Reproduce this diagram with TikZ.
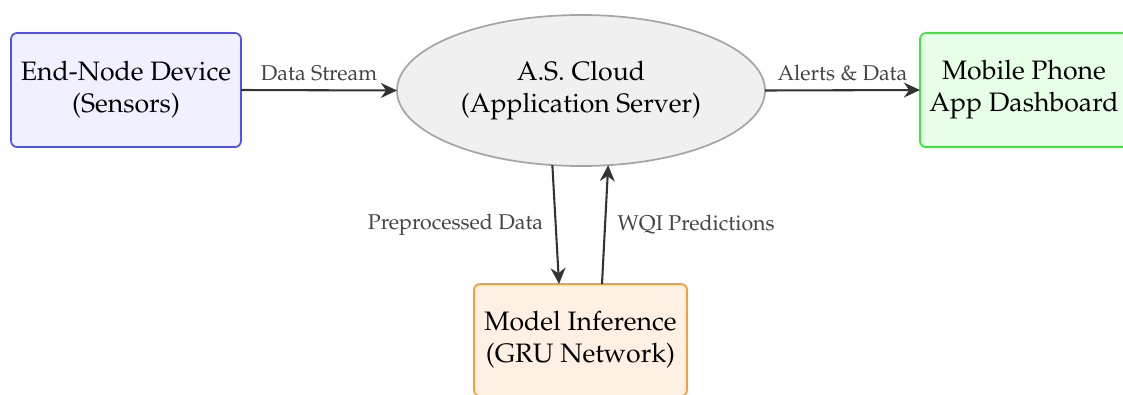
\documentclass[tikz,border=0pt]{standalone}
\usepackage[T1]{fontenc}
\usepackage{mathpazo}
\usetikzlibrary{shapes.geometric,arrows.meta,calc}

\definecolor{devborder}{RGB}{80,80,240}
\definecolor{devfill}{RGB}{240,240,255}
\definecolor{appborder}{RGB}{60,230,60}
\definecolor{appfill}{RGB}{230,255,230}
\definecolor{gruborder}{RGB}{255,155,55}
\definecolor{grufill}{RGB}{255,240,228}
\definecolor{cloudborder}{RGB}{165,165,165}
\definecolor{cloudfill}{RGB}{240,240,240}
\definecolor{flow}{RGB}{51,51,51}
\definecolor{flowtext}{RGB}{68,68,68}

\tikzset{
  block/.style={rectangle, rounded corners=2.6pt, line width=0.75pt,
    align=center, font=\fontsize{11.6}{14}\selectfont, inner sep=0pt, outer sep=0pt},
  cloudnode/.style={ellipse, draw=cloudborder, fill=cloudfill, line width=0.75pt,
    align=center, font=\fontsize{11.6}{14}\selectfont, inner sep=0pt, outer sep=0pt,
    minimum width=160.1pt, minimum height=65.7pt},
  flowarrow/.style={-{Stealth[length=7pt,width=6.5pt]}, draw=flow, line width=0.9pt},
  flowlabel/.style={font=\fontsize{9.3}{11}\selectfont, text=flowtext, inner sep=2pt}
}

\begin{document}
\begin{tikzpicture}[x=0.435pt, y=-0.435pt]
  \useasboundingbox (0,0) rectangle (1123,394);

  % nodes
  \node[block, draw=devborder, fill=devfill, minimum width=100pt, minimum height=49.6pt]
    (device) at (126,90) {End-Node Device\\(Sensors)};
  \node[cloudnode] (cloud) at (581,90.5) {A.S. Cloud\\(Application Server)};
  \node[block, draw=appborder, fill=appfill, minimum width=90.5pt, minimum height=49.6pt]
    (app) at (1024,90) {Mobile Phone\\App Dashboard};
  \node[block, draw=gruborder, fill=grufill, minimum width=92.7pt, minimum height=48.7pt]
    (model) at (580.5,340) {Model Inference\\(GRU Network)};

  % connectors
  \draw[flowarrow] (device.east) -- node[flowlabel, above=1.5pt] {Data Stream} (cloud.west);
  \draw[flowarrow] (cloud.east) -- node[flowlabel, above=1.5pt] {Alerts \& Data} (app.west);
  \draw[flowarrow] (cloud.249) -- node[flowlabel, left=3pt, pos=0.5] {Preprocessed Data}
    ([xshift=-9.35pt]model.north);
  \draw[flowarrow] ([xshift=9.35pt]model.north) -- node[flowlabel, right=3pt, pos=0.5] {WQI Predictions}
    (cloud.290);
\end{tikzpicture}
\end{document}
